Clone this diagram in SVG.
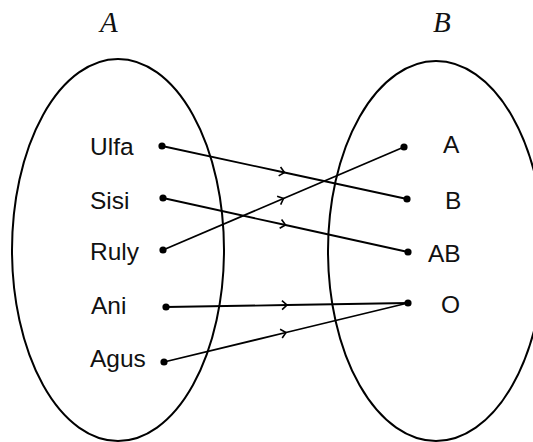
<svg xmlns="http://www.w3.org/2000/svg" width="533" height="442" viewBox="0 0 533 442">
<style>
.set{fill:none;stroke:#000;stroke-width:2}
.lbl{font-family:"Liberation Sans",Arial,sans-serif;font-size:24.5px;fill:#111}
.title{font-family:"Liberation Serif","Times New Roman",serif;font-style:italic;font-size:29px;fill:#111}
.dot{fill:#000}
.edge{fill:none;stroke:#000;stroke-width:1.8;marker-mid:url(#chev)}
</style>
<defs>
<marker id="chev" viewBox="-8 -8 16 16" markerWidth="16" markerHeight="16" markerUnits="userSpaceOnUse" orient="auto" refX="0" refY="0">
<path d="M-5,-4.5 L0,0 L-5,4.5" fill="none" stroke="#000" stroke-width="1.6"/>
</marker>
</defs>
<rect width="533" height="442" fill="#fff"/>
<g id="setA">
<ellipse class="set" cx="118" cy="250" rx="106" ry="191"/>
<text class="title" x="100" y="32">A</text>
</g>
<g id="setB">
<ellipse class="set" cx="436" cy="251" rx="108" ry="190"/>
<text class="title" x="433" y="32">B</text>
</g>
<g id="connectors">
<polyline class="edge" points="162,146 284.5,172.5 407,199"/>
<polyline class="edge" points="163,198 285.5,225 408,252"/>
<polyline class="edge" points="163,250 283.5,198.5 404,147"/>
<polyline class="edge" points="166,307 287,305 408,303"/>
<polyline class="edge" points="164,362 286,332.5 408,303"/>
</g>
<g id="node-ulfa"><text class="lbl" x="90" y="155">Ulfa</text><circle class="dot" cx="162" cy="146" r="3.6"/></g>
<g id="node-sisi"><text class="lbl" x="90" y="209">Sisi</text><circle class="dot" cx="163" cy="198" r="3.6"/></g>
<g id="node-ruly"><text class="lbl" x="90" y="260">Ruly</text><circle class="dot" cx="163" cy="250" r="3.6"/></g>
<g id="node-ani"><text class="lbl" x="91" y="314">Ani</text><circle class="dot" cx="166" cy="307" r="3.6"/></g>
<g id="node-agus"><text class="lbl" x="90" y="367">Agus</text><circle class="dot" cx="164" cy="362" r="3.6"/></g>
<g id="node-A"><text class="lbl" x="443" y="153">A</text><circle class="dot" cx="404" cy="147" r="3.6"/></g>
<g id="node-B"><text class="lbl" x="445" y="209">B</text><circle class="dot" cx="407" cy="199" r="3.6"/></g>
<g id="node-AB"><text class="lbl" x="428" y="262">AB</text><circle class="dot" cx="408" cy="252" r="3.6"/></g>
<g id="node-O"><text class="lbl" x="441" y="313">O</text><circle class="dot" cx="408" cy="303" r="3.6"/></g>
</svg>
